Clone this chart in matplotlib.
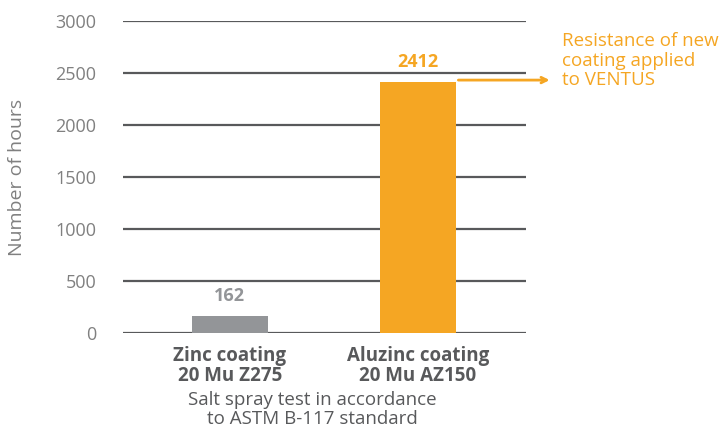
import matplotlib
matplotlib.use("Agg")
import matplotlib.pyplot as plt
import numpy as np

plt.rcParams['font.family'] = ['Open Sans', 'DejaVu Sans']

categories = ['Zinc coating\n20 Mu Z275', 'Aluzinc coating\n20 Mu AZ150']
hours = [162, 2412]
bar_colors = ['#939598', '#F5A623']
label_colors = ['#939598', '#F5A623']
yticks = [0, 500, 1000, 1500, 2000, 2500, 3000]

fig = plt.figure(figsize=(7.23, 4.36), dpi=100)
ax = fig.add_axes([0.170, 0.2362, 0.5574, 0.7156])

x = np.arange(len(categories))
ax.bar(x, hours, width=0.4, color=bar_colors, zorder=3)

for xi, h, c in zip(x, hours, label_colors):
    ax.text(xi, h + 110, str(h), ha='center', va='bottom', color=c,
            fontsize=13, fontweight='bold')

ax.set_ylim(0, 3000)
ax.set_xlim(-0.569, 1.574)
ax.set_yticks(yticks)
ax.yaxis.grid(True, color='#58595B', linewidth=1.6, zorder=0)
ax.tick_params(axis='y', length=0, pad=19, labelcolor='#808080', labelsize=13)
ax.tick_params(axis='x', length=0, pad=9, labelcolor='#58595B')
ax.set_xticks(x)
ax.set_xticklabels(categories, fontsize=13.5, fontweight='bold', linespacing=1.05)
for s in ax.spines.values():
    s.set_visible(False)

ax.set_ylabel('Number of hours', color='#808080', fontsize=14)
ax.yaxis.set_label_coords(-0.24, 0.5)

fig.text(0.432, 0.018, 'Salt spray test in accordance\nto ASTM B-117 standard',
         ha='center', va='bottom', color='#58595B', fontsize=13.5, linespacing=1.05)

ax.annotate('', xy=(1.715, hours[1] + 20), xytext=(1.2, hours[1] + 20),
            arrowprops=dict(arrowstyle='->', color='#F5A623', lw=2),
            annotation_clip=False)
fig.text(0.778, 0.795, 'Resistance of new\ncoating applied\nto VENTUS',
         ha='left', va='bottom', color='#F5A623', fontsize=13.5, linespacing=1.12)

fig.savefig('out.png', dpi=100)
